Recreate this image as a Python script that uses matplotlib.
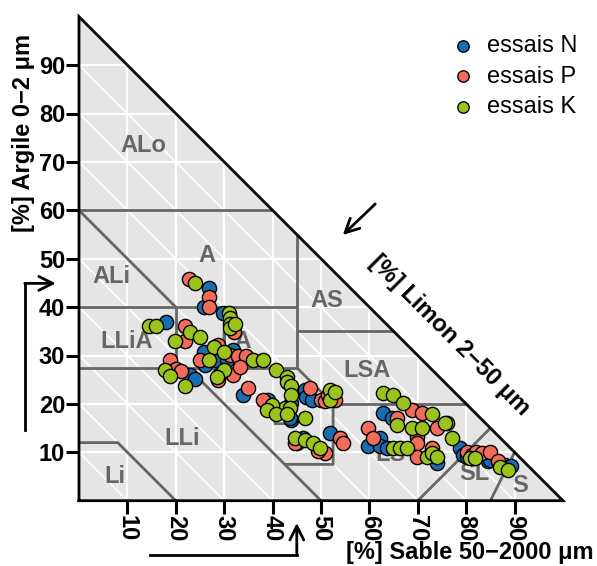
import matplotlib.pyplot as plt

plt.rcParams['font.family'] = ['Liberation Sans', 'DejaVu Sans']

# points: sable (%) / argile (%)
n_sable = [26.9, 25.8, 29.8, 17.9, 22.9, 24.0, 25.8, 26.0, 28.4, 31.9, 33.9, 39.1,
           43.9, 43.9, 43.6, 46.3, 46.7, 47.0, 48.1, 51.9, 62.9, 64.6, 59.8, 62.2,
           62.2, 63.6, 73.9, 78.7, 79.4, 80.1, 84.6, 84.9, 88.0, 89.3, 30.5]
n_argile = [43.9, 40.1, 38.8, 36.9, 26.0, 25.1, 30.8, 28.0, 29.1, 31.1, 21.8, 20.8,
            20.1, 16.7, 17.0, 12.9, 22.9, 21.5, 20.8, 13.9, 18.1, 17.0, 11.2, 12.9,
            11.2, 10.8, 7.7, 10.8, 9.4, 9.1, 8.1, 8.4, 7.4, 7.2, 29.0]

p_sable = [22.8, 26.9, 26.9, 32.0, 21.9, 21.9, 18.9, 20.0, 21.0, 25.0, 28.8, 31.2,
           32.9, 34.6, 28.8, 28.9, 31.9, 33.3, 35.0, 38.1, 45.0, 44.6, 47.7, 50.1,
           50.8, 52.9, 51.5, 50.8, 53.9, 54.6, 49.4, 68.7, 70.8, 65.6, 73.9, 59.8,
           60.8, 69.8, 69.8, 69.8, 72.9, 80.1, 81.1, 82.1, 83.2, 84.9, 86.6]
p_argile = [45.9, 42.0, 40.1, 34.9, 36.0, 32.9, 29.1, 27.2, 26.9, 29.1, 32.2, 30.1,
            29.8, 29.8, 24.9, 26.0, 26.0, 27.7, 23.2, 20.8, 11.9, 11.9, 23.2, 20.8,
            20.5, 20.8, 21.8, 9.8, 12.9, 11.9, 10.3, 18.7, 18.1, 17.0, 15.0, 15.0,
            12.9, 13.2, 11.9, 9.1, 10.8, 10.1, 9.4, 10.1, 9.8, 10.1, 8.1]

k_sable = [24.0, 30.9, 31.1, 31.1, 31.2, 32.2, 14.5, 16.0, 23.0, 25.0, 19.8, 17.8,
           18.9, 21.9, 27.9, 26.9, 30.0, 30.0, 28.6, 36.0, 38.1, 40.8, 42.9, 42.9,
           43.9, 43.9, 42.6, 43.6, 39.8, 38.8, 40.8, 42.9, 44.6, 46.7, 48.4, 49.8,
           46.7, 51.9, 51.9, 52.9, 62.9, 64.9, 67.0, 72.9, 65.6, 68.7, 70.8, 76.0,
           75.6, 77.0, 64.9, 66.3, 67.7, 71.8, 72.9, 73.9, 80.8, 81.8, 87.0, 88.7]
k_argile = [44.9, 38.7, 37.7, 36.6, 35.6, 36.6, 36.0, 36.0, 34.9, 33.9, 32.9, 27.0,
            25.8, 23.8, 31.8, 29.1, 30.8, 27.1, 25.6, 29.1, 29.1, 27.0, 25.6, 24.6,
            23.7, 21.8, 19.1, 19.1, 19.8, 18.8, 17.9, 17.9, 12.9, 12.5, 11.9, 10.8,
            17.0, 22.9, 20.8, 22.5, 22.2, 21.8, 20.1, 17.9, 15.6, 15.0, 15.0, 16.0,
            16.0, 12.9, 10.8, 10.8, 10.8, 9.1, 9.8, 9.1, 8.8, 8.8, 7.0, 6.3]

# texture classes (label position in sable / argile)
classes = ['ALo', 'A', 'ALi', 'LLiA', 'LA', 'AS', 'LSA', 'L', 'LLi', 'Li', 'LS', 'SL', 'S']
class_sable = [13.2, 26.5, 6.6, 9.8, 32.4, 51.2, 59.6, 41.3, 21.4, 7.4, 64.3, 81.6, 91.2]
class_argile = [73.3, 50.7, 46.3, 32.9, 32.8, 41.4, 26.8, 17.0, 12.9, 5.0, 9.6, 5.7, 3.1]

# class boundaries (sable, argile)
limits = [
    [(0, 60), (40, 60)],
    [(0, 60), (20, 40)],
    [(0, 40), (45, 40)],
    [(45, 55), (45, 27.5)],
    [(20, 40), (20, 27.5)],
    [(0, 27.5), (45, 27.5)],
    [(45, 35), (65, 35)],
    [(45, 27.5), (52.5, 20), (52.5, 7.5), (42.5, 7.5)],
    [(22.5, 27.5), (50, 0)],
    [(52.5, 20), (80, 20)],
    [(70, 0), (85, 15)],
    [(85, 0), (90, 10)],
    [(0, 12), (8, 12), (20, 0)],
]

ticks = [10, 20, 30, 40, 50, 60, 70, 80, 90]

fig = plt.figure(figsize=(5.97, 5.66), dpi=100)
ax = fig.add_axes([79 / 597, 65.3 / 566, 484 / 597, 484 / 566])
ax.set_xlim(0, 100)
ax.set_ylim(0, 100)
for s in ax.spines.values():
    s.set_visible(False)

# background triangle
ax.fill([0, 100, 0], [0, 0, 100], color='#e5e5e5', zorder=1, lw=0)

# white grid
for t in ticks:
    ax.plot([t, t], [0, 100 - t], color='white', lw=1.6, zorder=2)
    ax.plot([0, 100 - t], [t, t], color='white', lw=1.6, zorder=2)
    ax.plot([0, t], [t, 0], color='white', lw=1.1, zorder=2)

for seg in limits:
    ax.plot([p[0] for p in seg], [p[1] for p in seg], color='#666666', lw=2,
            zorder=3, solid_capstyle='butt')

for name, xs, ys in zip(classes, class_sable, class_argile):
    ax.text(xs, ys, name, color='#666666', fontsize=17, fontweight='bold',
            ha='center', va='center', zorder=4)

ax.scatter(n_sable, n_argile, s=105, c='#1a6db0', edgecolors='black', linewidths=1,
           zorder=5, label='essais N', clip_on=False)
ax.scatter(p_sable, p_argile, s=105, c='#f26b5b', edgecolors='black', linewidths=1,
           zorder=5, label='essais P', clip_on=False)
ax.scatter(k_sable, k_argile, s=105, c='#9bc31b', edgecolors='black', linewidths=1,
           zorder=5, label='essais K', clip_on=False)

# triangle outline
ax.plot([0, 100, 0, 0], [0, 0, 100, 0], color='black', lw=2, zorder=6,
        clip_on=False, solid_joinstyle='miter')

ax.set_xticks(ticks)
ax.set_yticks(ticks)
ax.set_xticklabels(ticks, rotation=270, fontweight='bold', fontsize=17)
ax.set_yticklabels(ticks, fontweight='bold', fontsize=17)
ax.tick_params(length=9.5, width=2.2, pad=0.5)

# axis titles
fig.text(24 / 597, 1 - 133 / 566, '[%] Argile 0\u22122 \u03bcm', rotation=90,
         fontsize=17, fontweight='bold', ha='center', va='center')
fig.text(470 / 597, 1 - 553 / 566, '[%] Sable 50\u22122000 \u03bcm',
         fontsize=17, fontweight='bold', ha='center', va='center')
fig.text(450 / 597, 1 - 335 / 566, '[%] Limon 2\u221250 \u03bcm', rotation=-45,
         rotation_mode='anchor', fontsize=17, fontweight='bold', ha='center', va='center')

# direction arrows
arr = dict(arrowstyle='->', lw=2, color='black', mutation_scale=25, shrinkA=0, shrinkB=0)
ax.plot([-11.2, -11.2], [14.6, 44.9], color='black', lw=2, clip_on=False)
ax.annotate('', xy=(-4.8, 44.9), xytext=(-11.2, 44.9), arrowprops=arr, annotation_clip=False)
ax.plot([14.7, 45.0], [-11.2, -11.2], color='black', lw=2, clip_on=False)
ax.annotate('', xy=(45.0, -4.6), xytext=(45.0, -11.2), arrowprops=arr, annotation_clip=False)
ax.annotate('', xy=(54.5, 54.9), xytext=(61.2, 61.3), arrowprops=arr, annotation_clip=False)

ax.legend(loc='upper left', bbox_to_anchor=(437 / 597, 1 - 23 / 566),
          bbox_transform=fig.transFigure, frameon=False, fontsize=17,
          handletextpad=0.4, labelspacing=0.37, borderpad=0, handlelength=1.2,
          markerscale=0.8)

fig.savefig('out.png', dpi=100)
